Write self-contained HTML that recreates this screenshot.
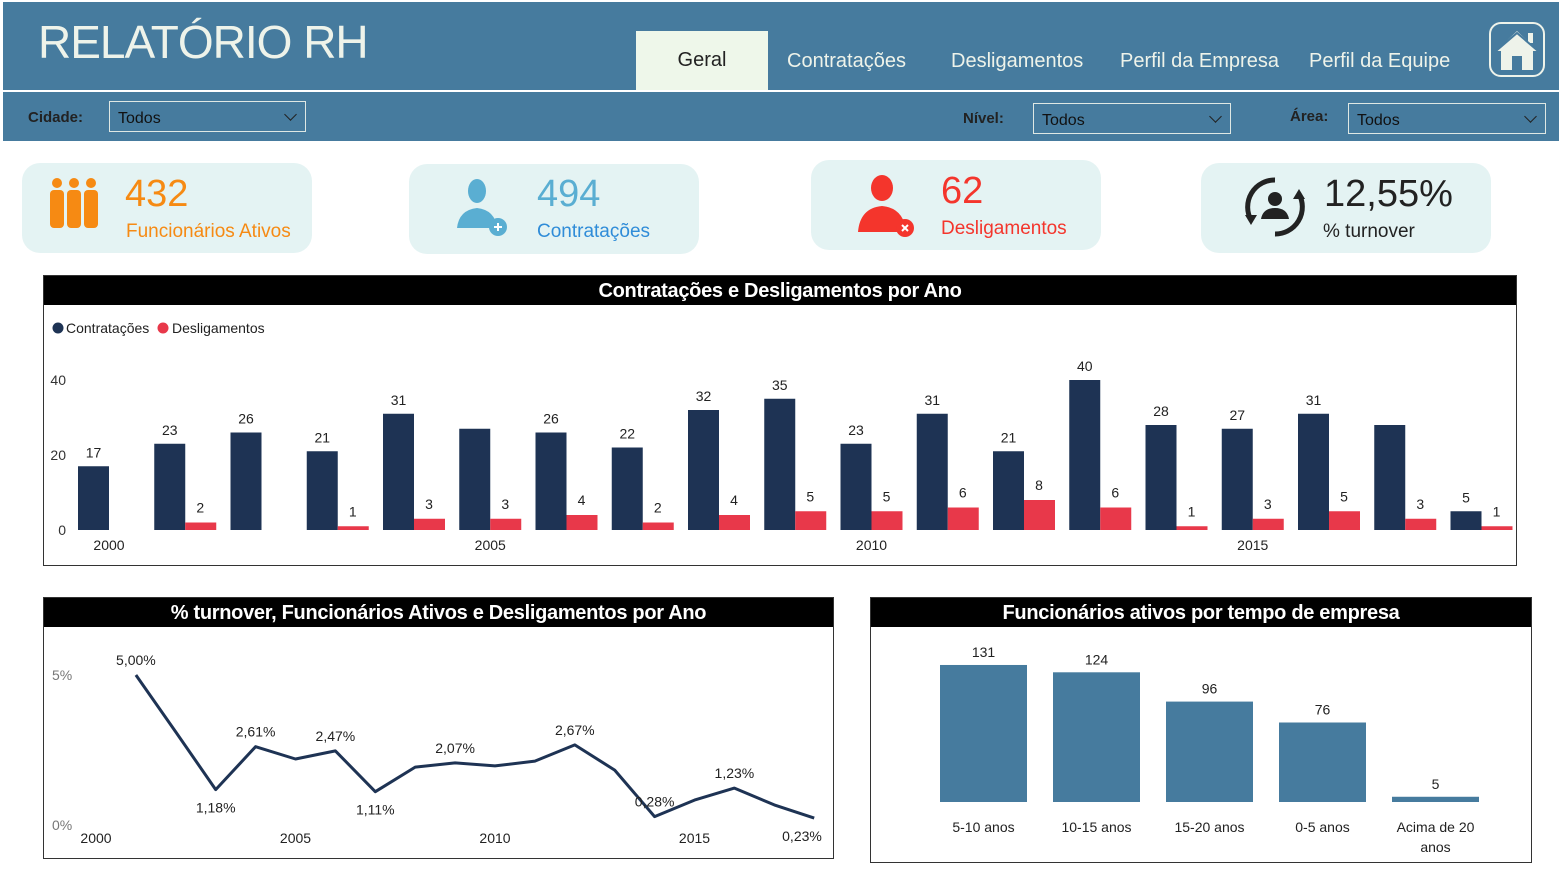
<!DOCTYPE html>
<html><head><meta charset="utf-8"><style>
body{margin:0;width:1559px;height:876px;background:#fff;position:relative;overflow:hidden;font-family:"Liberation Sans",sans-serif}
.abs{position:absolute}
.hdr{left:3px;top:2px;width:1556px;height:88px;background:#467b9e}
.flt{left:3px;top:92px;width:1556px;height:49px;background:#467b9e}
.tab{color:#eef3ea;font-size:20px}
.lbl{font-weight:bold;font-size:15px;color:#222}
.sel{border:1px solid #dfe8e4;height:31px;box-sizing:border-box;font-size:16px;color:#111;padding:8px 0 0 8px}
.sel:after{content:"";position:absolute;right:10px;top:8px;width:8px;height:8px;border-right:1px solid #222;border-bottom:1px solid #222;transform:rotate(45deg)}
.card{background:#e4f3f3;border-radius:18px;height:90px;width:290px}
.big{font-size:38px}
.sub{font-size:19px}
.panel{border:1px solid #333;box-sizing:border-box;background:#fff}
.ptitle{background:#000;color:#fff;font-weight:bold;font-size:20px;text-align:center;height:29px;line-height:30px;letter-spacing:-0.3px}
</style></head><body>
<div class="abs hdr"></div>
<div class="abs" style="left:38px;top:15px;font-size:46px;color:#eef3ea;letter-spacing:-1px">RELATÓRIO RH</div>
<div class="abs" style="left:636px;top:31px;width:132px;height:59px;background:#eef7ea"><div style="text-align:center;padding-top:18px;font-size:20px;color:#222">Geral</div></div>
<div class="abs tab" style="left:787px;top:50px">Contratações</div>
<div class="abs tab" style="left:951px;top:50px">Desligamentos</div>
<div class="abs tab" style="left:1120px;top:50px">Perfil da Empresa</div>
<div class="abs tab" style="left:1309px;top:50px">Perfil da Equipe</div>
<div class="abs" style="left:1489px;top:22px;width:56px;height:55px;border:2px solid #eef3ea;border-radius:12px;box-sizing:border-box">
<svg width="52" height="51" viewBox="0 0 52 51"><polygon points="26,7 5,27 10,27 10,46 42,46 42,27 47,27" fill="#eef3ea"/><rect x="37" y="9" width="5" height="10" fill="#eef3ea"/><rect x="21" y="32" width="10" height="14" fill="#467b9e"/><polyline points="5,27 26,9 47,27" fill="none" stroke="#467b9e" stroke-width="2"/></svg></div>
<div class="abs flt"></div>
<div class="abs lbl" style="left:28px;top:109px">Cidade:</div>
<div class="abs sel" style="left:109px;top:101px;width:197px">Todos</div>
<div class="abs lbl" style="left:963px;top:110px">Nível:</div>
<div class="abs sel" style="left:1033px;top:103px;width:198px">Todos</div>
<div class="abs lbl" style="left:1290px;top:108px">Área:</div>
<div class="abs sel" style="left:1348px;top:103px;width:198px">Todos</div>

<div class="abs card" style="left:22px;top:163px">
<svg class="abs" style="left:26px;top:14px" width="52" height="52" viewBox="0 0 52 52" fill="#f68a13"><circle cx="9" cy="6" r="5"/><circle cx="26" cy="6" r="5"/><circle cx="43" cy="6" r="5"/><rect x="2" y="13" width="14" height="38" rx="4"/><rect x="19" y="13" width="14" height="38" rx="4"/><rect x="36" y="13" width="14" height="38" rx="4"/></svg>
<div class="abs big" style="left:103px;top:10px;color:#f68a13">432</div><div class="abs sub" style="left:104px;top:58px;color:#f68a13">Funcionários Ativos</div></div>
<div class="abs card" style="left:409px;top:164px">
<svg class="abs" style="left:46px;top:14px" width="56" height="60" viewBox="0 0 56 60" fill="#5aaed2"><ellipse cx="22" cy="13" rx="9" ry="12"/><path d="M2 50 Q4 32 22 30 Q40 32 42 50Z"/><circle cx="43" cy="49" r="9"/><path d="M39 49h8M43 45v8" stroke="#fff" stroke-width="2"/></svg>
<div class="abs big" style="left:128px;top:9px;color:#5aaed2">494</div><div class="abs sub" style="left:128px;top:57px;color:#2f8cd8">Contratações</div></div>
<div class="abs card" style="left:811px;top:160px">
<svg class="abs" style="left:44px;top:14px" width="64" height="64" viewBox="0 0 64 64" fill="#f4352c"><ellipse cx="27" cy="14" rx="11" ry="13"/><path d="M3 58 Q5 34 27 32 Q49 34 51 58Z"/><circle cx="50" cy="54" r="9"/><path d="M47 51l6 6M53 51l-6 6" stroke="#fff" stroke-width="2"/></svg>
<div class="abs big" style="left:130px;top:10px;color:#f4352c">62</div><div class="abs sub" style="left:130px;top:58px;color:#f4352c">Desligamentos</div></div>
<div class="abs card" style="left:1201px;top:163px">
<svg class="abs" style="left:42px;top:12px" width="64" height="64" viewBox="0 0 64 64"><path d="M32 5 A27 27 0 0 0 8 45" fill="none" stroke="#222" stroke-width="5"/><path d="M32 59 A27 27 0 0 0 56 19" fill="none" stroke="#222" stroke-width="5"/><polygon points="2,40 14,40 8,50" fill="#222"/><polygon points="50,24 62,24 56,14" fill="#222"/><circle cx="32" cy="24" r="7" fill="#222"/><path d="M18 44 Q20 33 32 33 Q44 33 46 44Z" fill="#222"/></svg>
<div class="abs big" style="left:123px;top:10px;color:#222">12,55%</div><div class="abs sub" style="left:122px;top:58px;color:#222">% turnover</div></div>

<div class="abs panel" style="left:43px;top:275px;width:1474px;height:291px">
<div class="ptitle">Contratações e Desligamentos por Ano</div></div>
<svg class="abs" id="bar1" style="left:0;top:0" width="1559" height="876" font-size="14"></svg>

<div class="abs panel" style="left:43px;top:597px;width:791px;height:262px">
<div class="ptitle">% turnover, Funcionários Ativos e Desligamentos por Ano</div></div>
<div class="abs panel" style="left:870px;top:597px;width:662px;height:266px">
<div class="ptitle">Funcionários ativos por tempo de empresa</div></div>
<svg class="abs" id="ch2" style="left:0;top:0" width="1559" height="876" font-size="14"></svg>

<script>
const years=[2000,2001,2002,2003,2004,2005,2006,2007,2008,2009,2010,2011,2012,2013,2014,2015,2016,2017,2018];
const hires=[17,23,26,21,31,27,26,22,32,35,23,31,21,40,28,27,31,28,5];
const fires=[0,2,0,1,3,3,4,2,4,5,5,6,8,6,1,3,5,3,1];
const hireLabels=[17,23,26,21,31,null,26,22,32,35,23,31,21,40,28,27,31,null,5];
const barTicks=[0,20,40];
const xTicks=[2000,2005,2010,2015];
const tYears=[2001,2002,2003,2004,2005,2006,2007,2008,2009,2010,2011,2012,2013,2014,2015,2016,2017,2018];
const turnover=[5.00,3.1,1.18,2.61,2.2,2.47,1.11,1.93,2.07,1.97,2.13,2.67,1.83,0.28,0.83,1.23,0.67,0.23];
const turnoverLabels=["5,00%",null,"1,18%","2,61%",null,"2,47%","1,11%",null,"2,07%",null,null,"2,67%",null,"0,28%",null,"1,23%",null,"0,23%"];
const labelBelow=[false,false,true,false,false,false,true,false,false,false,false,false,false,false,false,false,false,true];
const tTicks=[0,5];
const tenureCats=["5-10 anos","10-15 anos","15-20 anos","0-5 anos","Acima de 20|anos"];
const tenureVals=[131,124,96,76,5];
const NS="http://www.w3.org/2000/svg";
function mk(svg,tag,attrs,txt){const e=document.createElementNS(NS,tag);for(const k in attrs)e.setAttribute(k,attrs[k]);if(txt!=null)e.textContent=txt;svg.appendChild(e);return e;}
const s1=document.getElementById('bar1');
const bx=y=>78+(y-2000)*76.25, by=v=>530-v*3.75;
let e;
e=mk(s1,'circle',{cx:58,cy:328,r:5.5,fill:'#1e3354'});

e=mk(s1,'text',{x:66,y:333,fill:'#222'},'Contratações');

e=mk(s1,'circle',{cx:163,cy:328,r:5.5,fill:'#e8384a'});

e=mk(s1,'text',{x:172,y:333,fill:'#222'},'Desligamentos');

barTicks.forEach(t=>{e=mk(s1,'text',{x:66,y:by(t)+5,'text-anchor':'end',fill:'#333'},t);
});
xTicks.forEach(t=>{e=mk(s1,'text',{x:bx(t)+31,y:550,'text-anchor':'middle',fill:'#222'},t);
});
years.forEach((y,i)=>{
 e=mk(s1,'rect',{x:bx(y),y:by(hires[i]),width:31,height:hires[i]*3.75,fill:'#1e3354'});
 
 if(hireLabels[i]!=null){e=mk(s1,'text',{x:bx(y)+15.5,y:by(hires[i])-9,'text-anchor':'middle',fill:'#222'},hireLabels[i]);
 }
 if(fires[i]>0){
 e=mk(s1,'rect',{x:bx(y)+31,y:by(fires[i]),width:31,height:fires[i]*3.75,fill:'#e8384a'});
 
 e=mk(s1,'text',{x:bx(y)+46,y:by(fires[i])-10,'text-anchor':'middle',fill:'#222'},fires[i]);
 }
});
const s2=document.getElementById('ch2');
const lx=y=>96+(y-2000)*39.9, ly=v=>825-v*30;
tTicks.forEach(t=>{e=mk(s2,'text',{x:52,y:ly(t)+5,fill:'#777'},t+'%');
});
xTicks.forEach(t=>{e=mk(s2,'text',{x:lx(t),y:843,'text-anchor':'middle',fill:'#222'},t);
});
e=mk(s2,'polyline',{points:tYears.map((y,i)=>lx(y)+','+ly(turnover[i])).join(' '),fill:'none',stroke:'#1e3354','stroke-width':3,'stroke-linejoin':'round'});

tYears.forEach((y,i)=>{if(turnoverLabels[i]){
 e=mk(s2,'text',{x:Math.min(lx(y),802),y:labelBelow[i]?ly(turnover[i])+23:ly(turnover[i])-10,'text-anchor':'middle',fill:'#222'},turnoverLabels[i]);
 }});
const tx=i=>940+i*113, ty=v=>802-v*1.046;
tenureCats.forEach((c,i)=>{
 e=mk(s2,'rect',{x:tx(i),y:ty(tenureVals[i]),width:87,height:Math.max(tenureVals[i]*1.046,5),fill:'#467b9e'});
 if(tenureVals[i]*1.046<5)e.setAttribute('y',797);
 
 e=mk(s2,'text',{x:tx(i)+43.5,y:Math.min(ty(tenureVals[i]),797)-8,'text-anchor':'middle',fill:'#222'},tenureVals[i]);
 
 c.split('|').forEach((p,j)=>{e=mk(s2,'text',{x:tx(i)+43.5,y:832+j*20,'text-anchor':'middle',fill:'#222'},p);
 });
});
</script>
</body></html>
